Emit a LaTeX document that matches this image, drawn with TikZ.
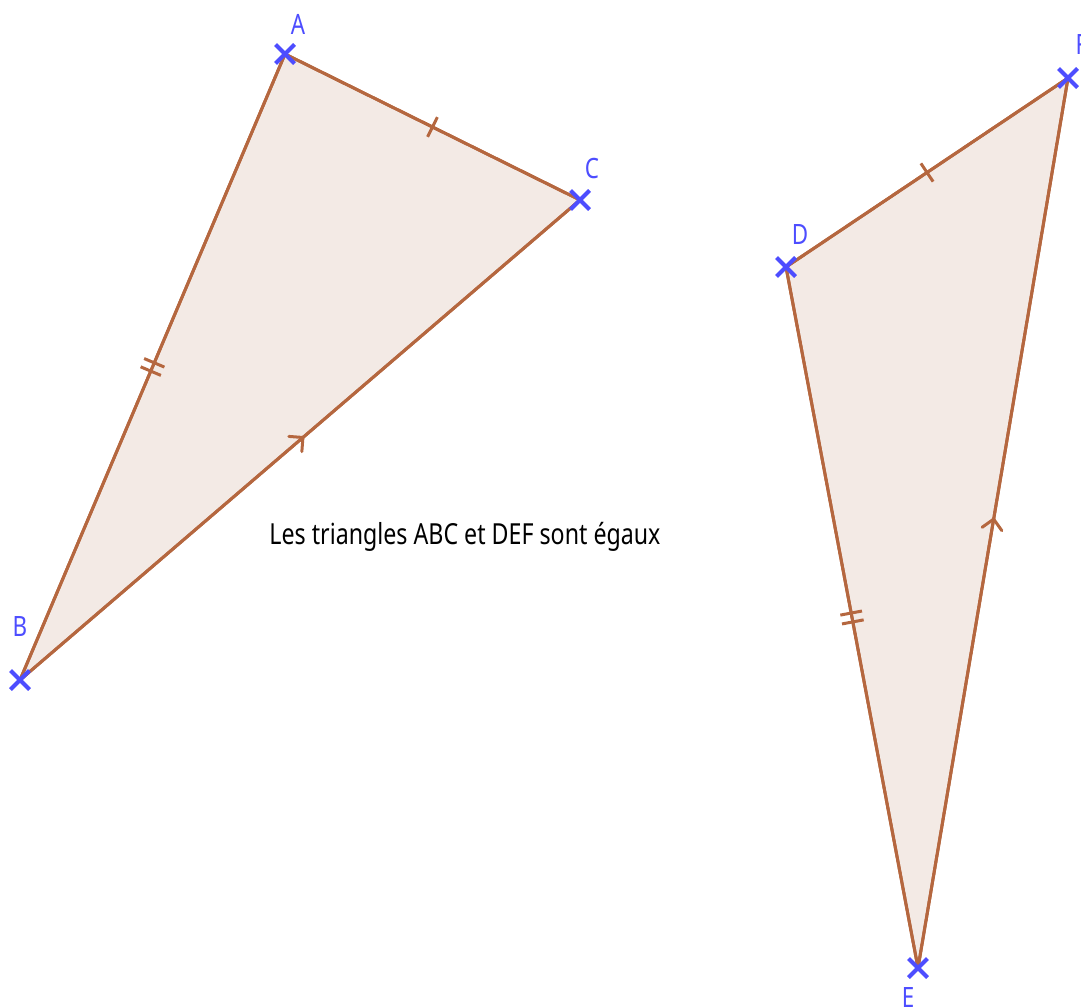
\documentclass[tikz,border=0pt]{standalone}
\usepackage{fontspec}
\setmainfont{Noto Sans}[FakeStretch=0.8]
\usepackage{xcolor}
\usetikzlibrary{shapes.misc,decorations.markings}

\definecolor{brun}{HTML}{B5673F}
\definecolor{fond}{HTML}{F3EAE5}
\definecolor{bleu}{HTML}{4D4DFF}

\begin{document}
\begin{tikzpicture}[
  x=1pt, y=-1pt,
  cote/.style={draw=brun, line width=3pt, line join=round},
  face/.style={fill=fond, draw=brun, line width=3pt, line join=round},
  point/.style={cross out, draw=bleu, line width=4pt, minimum size=15pt, inner sep=0pt},
  nom/.style={text=bleu, font=\fontsize{28}{30}\selectfont},
  un trait/.style={postaction={decorate, decoration={markings,
    mark=at position 0.5 with {\draw[brun, line width=3pt] (0,-11pt) -- (0,11pt);}}}},
  deux traits/.style={postaction={decorate, decoration={markings,
    mark=at position 0.5 with {\draw[brun, line width=3pt] (-4.5pt,-11pt) -- (-4.5pt,11pt) (4.5pt,-11pt) -- (4.5pt,11pt);}}}},
  fleche/.style={postaction={decorate, decoration={markings,
    mark=at position 0.5 with {\draw[brun, line width=3pt, line cap=round] (-6pt,-10pt) -- (4pt,0pt) -- (-6pt,10pt);}}}},
]
\useasboundingbox (0,0) rectangle (1081,1007);

% sommets
\coordinate (A) at (285,54);
\coordinate (B) at (20,680);
\coordinate (C) at (580,200);
\coordinate (D) at (786,267);
\coordinate (E) at (918,968);
\coordinate (F) at (1068,78);

% triangle ABC
\path[face] (A) -- (B) -- (C) -- cycle;
\path[cote, un trait] (A) -- (C);
\path[cote, deux traits] (A) -- (B);
\path[cote, fleche] (B) -- (C);

% triangle DEF
\path[face] (D) -- (E) -- (F) -- cycle;
\path[cote, un trait] (D) -- (F);
\path[cote, deux traits] (D) -- (E);
\path[cote, fleche] (E) -- (F);

% croix
\foreach \p in {A,B,C,D,E,F}
  \node[point] (x\p) at (\p) {};

% noms
\node[nom] (nA) at (298,24) {A};
\node[nom] (nB) at (20,626) {B};
\node[nom] (nC) at (592,168) {C};
\node[nom] (nD) at (800,234) {D};
\node[nom] (nE) at (908,997) {E};
\node[nom, anchor=west] (nF) at (1072,45) {F};

\node[font=\fontsize{29}{32}\selectfont] (titre) at (465,537) {Les triangles ABC et DEF sont égaux};
\end{tikzpicture}
\end{document}
